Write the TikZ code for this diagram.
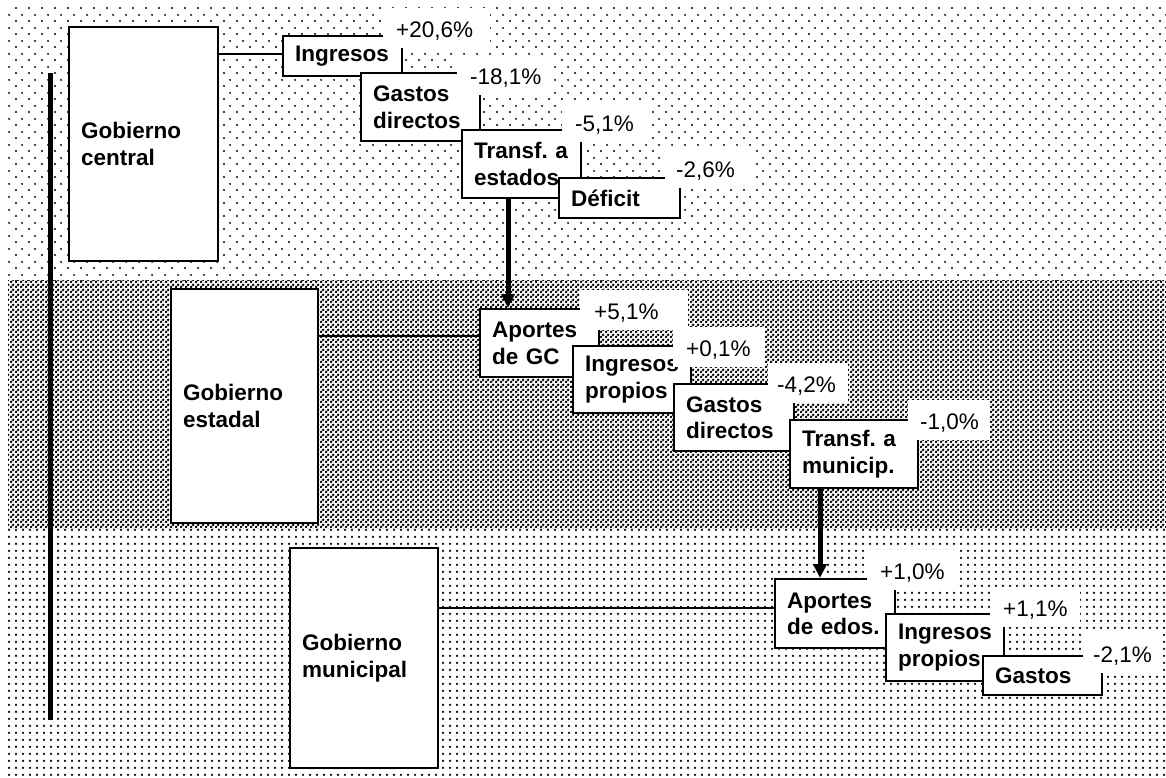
\documentclass[tikz,border=0pt]{standalone}
\usepackage{fontspec}
\setmainfont{Liberation Sans}
\usetikzlibrary{patterns.meta,arrows.meta,calc}

\tikzdeclarepattern{
  name=topdots, type=uncolored,
  bounding box={(0pt,0pt) and (13pt,13pt)},
  tile size={(13pt,13pt)},
  code={
    \fill (3.25pt,3.25pt) circle[radius=1.15pt];
    \fill (9.75pt,9.75pt) circle[radius=1.15pt];
  }
}
\tikzdeclarepattern{
  name=middots, type=uncolored,
  bounding box={(0pt,0pt) and (5pt,5pt)},
  tile size={(5pt,5pt)},
  code={
    \fill (1.25pt,1.25pt) circle[radius=1.7pt];
    \fill (3.75pt,3.75pt) circle[radius=1.7pt];
  }
}
\tikzdeclarepattern{
  name=lowdots, type=uncolored,
  bounding box={(0pt,0pt) and (6.5pt,6.5pt)},
  tile size={(6.5pt,6.5pt)},
  code={
    \fill (3.25pt,3.25pt) circle[radius=1.35pt];
  }
}

\begin{document}
\frenchspacing
\begin{tikzpicture}[x=1pt,y=-1pt,
  govbox/.style={draw, line width=2.4pt, fill=white, anchor=north west,
    inner xsep=12pt, inner ysep=0pt, align=left,
    font=\frenchspacing\bfseries\fontsize{22.5}{26.5}\selectfont},
  itembox/.style={draw, line width=2.4pt, fill=white, anchor=north west,
    inner xsep=12pt, inner ysep=0pt, align=left,
    font=\frenchspacing\bfseries\fontsize{22.5}{26.5}\selectfont},
  pct/.style={fill=white, anchor=south west, inner xsep=13pt, inner ysep=0pt,
    text height=30pt, text depth=10pt, align=left,
    font=\fontsize{22.5}{26}\selectfont},
  link/.style={line width=2.2pt},
  bigarrow/.style={line width=5pt, -{Triangle[length=14pt,width=13pt]}},
]
\useasboundingbox (0,0) rectangle (1166,778);
\fill[white] (0,0) rectangle (1166,778);
\fill[pattern=topdots, pattern color=black] (8,8) rectangle (1166,280);
\fill[pattern=middots, pattern color=black] (8,280) rectangle (1166,528);
\fill[pattern=lowdots, pattern color=black] (8,528) rectangle (1166,778);

% vertical bar
\draw[line width=5pt] (50,73) -- (50,720);

% government boxes
\node[govbox, minimum width=149pt, text width=125pt, minimum height=234pt] (gc) at (68,26) {\mbox{Gobierno}\\\mbox{central}};
\node[govbox, minimum width=147pt, text width=123pt, minimum height=234pt] (ge) at (170,288) {\mbox{Gobierno}\\\mbox{estadal}};
\node[govbox, minimum width=148pt, text width=124pt, minimum height=220pt] (gm) at (289,547) {\mbox{Gobierno}\\\mbox{municipal}};

% central row
\node[itembox, minimum width=119pt, text width=95pt, minimum height=40pt] (ing) at (282,35) {\mbox{Ingresos}};
\node[pct, text width=81pt] (p1) at (383,48) {\mbox{+20,6\%}};
\node[itembox, minimum width=119pt, text width=95pt, minimum height=68pt] (gdC) at (360,72) {\mbox{Gastos}\\\mbox{directos}};
\node[pct, text width=69pt] (p2) at (457,95) {\mbox{-18,1\%}};
\node[itembox, minimum width=119pt, text width=95pt, minimum height=68pt] (tE) at (461,129) {\mbox{Transf. a}\\\mbox{estados}};
\node[pct, text width=64pt] (p3) at (562,142) {\mbox{-5,1\%}};
\node[itembox, minimum width=121pt, text width=97pt, minimum height=40pt] (def) at (558,177) {\mbox{Déficit}};
\node[pct, inner xsep=11pt, text width=68pt] (p4) at (665,188) {\mbox{-2,6\%}};

% state row
\node[itembox, minimum width=119pt, text width=95pt, minimum height=68pt] (apGC) at (479,308) {\mbox{Aportes}\\\mbox{de GC}};
\node[pct, inner xsep=14pt, text width=80pt] (p5) at (580,330) {\mbox{+5,1\%}};
\node[itembox, minimum width=118pt, text width=94pt, minimum height=67pt] (ipE) at (572,345) {\mbox{Ingresos}\\\mbox{propios}};
\node[pct, text width=66pt] (p6) at (673,367) {\mbox{+0,1\%}};
\node[itembox, minimum width=120pt, text width=96pt, minimum height=67pt] (gdE) at (673,383) {\mbox{Gastos}\\\mbox{directos}};
\node[pct, inner xsep=9pt, text width=62pt] (p7) at (768,403) {\mbox{-4,2\%}};
\node[itembox, minimum width=128pt, text width=104pt, minimum height=68pt] (tM) at (789,419) {\mbox{Transf. a}\\\mbox{municip.}};
\node[pct, inner xsep=12pt, text width=58pt] (p8) at (908,440) {\mbox{-1,0\%}};

% municipal row
\node[itembox, minimum width=120pt, text width=96pt, minimum height=69pt] (apE) at (774,578) {\mbox{Aportes}\\\mbox{de edos.}};
\node[pct, text width=64pt] (p9) at (867,590) {\mbox{+1,0\%}};
\node[itembox, minimum width=118pt, text width=94pt, minimum height=67pt] (ipM) at (885,613) {\mbox{Ingresos}\\\mbox{propios}};
\node[pct, text width=64pt] (p10) at (990,627) {\mbox{+1,1\%}};
\node[itembox, minimum width=119pt, text width=95pt, minimum height=39pt] (gM) at (982,655) {\mbox{Gastos}};
\node[pct, inner xsep=10pt, text width=60pt] (p11) at (1083,673) {\mbox{-2,1\%}};

% connectors
\draw[link] ($(gc.east |- ing.west)+(0,-2)$) -- ($(ing.west)+(0,-2)$);
\draw[link] ($(ge.east |- apGC.west)+(0,-7)$) -- ($(apGC.west)+(0,-7)$);
\draw[link] ($(gm.east |- apE.west)+(0,-5.5)$) -- ($(apE.west)+(0,-5.5)$);

% arrows
\coordinate (a1s) at ($(tE.south west)+(47,0)$);
\coordinate (a1e) at (a1s |- apGC.north);
\draw[bigarrow] (a1s) -- (a1e);
\coordinate (a2s) at ($(tM.south west)+(31,0)$);
\coordinate (a2e) at (a2s |- apE.north);
\draw[bigarrow] (a2s) -- (a2e);
\end{tikzpicture}
\end{document}
